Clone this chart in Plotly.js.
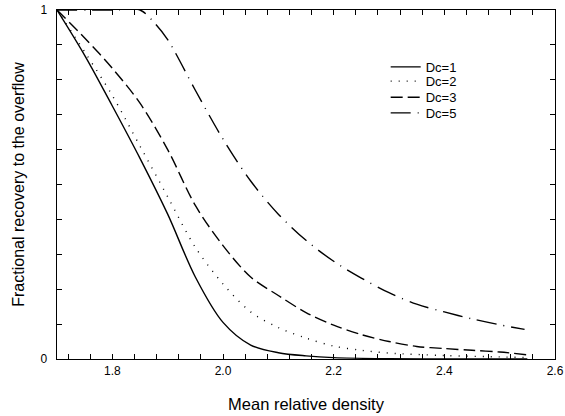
<!DOCTYPE html>
<html>
<head>
<meta charset="utf-8">
<script src="https://cdn.plot.ly/plotly-3.0.1.min.js"></script>
<style>html,body{margin:0;padding:0;background:#fff;}#chart{width:565px;height:416px;}</style>
</head>
<body>
<div id="chart"></div>
<script>
// Mean relative density values and fractional recovery for each Dc
const dc1X = [1.70, 1.75, 1.80, 1.85, 1.90, 1.95, 2.00, 2.05, 2.10, 2.15, 2.20, 2.30, 2.40, 2.55];
const dc1Y = [1.00, 0.87, 0.725, 0.575, 0.415, 0.235, 0.105, 0.040, 0.018, 0.009, 0.004, 0.001, 0.000, 0.000];

const dc2X = [1.70, 1.75, 1.80, 1.85, 1.90, 1.95, 2.00, 2.05, 2.10, 2.15, 2.20, 2.25, 2.30, 2.40, 2.50, 2.55];
const dc2Y = [1.00, 0.88, 0.755, 0.61, 0.465, 0.32, 0.215, 0.135, 0.090, 0.060, 0.037, 0.025, 0.017, 0.010, 0.006, 0.004];

const dc3X = [1.70, 1.75, 1.80, 1.85, 1.90, 1.95, 2.00, 2.05, 2.10, 2.15, 2.20, 2.25, 2.30, 2.35, 2.40, 2.45, 2.50, 2.55];
const dc3Y = [1.00, 0.92, 0.833, 0.733, 0.60, 0.44, 0.325, 0.235, 0.182, 0.133, 0.097, 0.070, 0.050, 0.036, 0.030, 0.025, 0.020, 0.012];

const dc5X = [1.70, 1.80, 1.85, 1.875, 1.90, 1.95, 2.00, 2.05, 2.10, 2.15, 2.20, 2.25, 2.30, 2.35, 2.40, 2.45, 2.50, 2.545];
const dc5Y = [1.00, 1.00, 1.00, 0.965, 0.915, 0.77, 0.63, 0.51, 0.415, 0.34, 0.28, 0.232, 0.19, 0.157, 0.135, 0.115, 0.098, 0.085];

const seriesNames = ['Dc=1', 'Dc=2', 'Dc=3', 'Dc=5'];
const xTickVals = [1.72,1.76,1.80,1.84,1.88,1.92,1.96,2.00,2.04,2.08,2.12,2.16,2.20,2.24,2.28,2.32,2.36,2.40,2.44,2.48,2.52,2.56,2.60];
const xTickLabels = ['','','1.8','','','','','2.0','','','','','2.2','','','','','2.4','','','','','2.6'];
const yTickVals = [0,0.1,0.2,0.3,0.4,0.5,0.6,0.7,0.8,0.9,1.0];
const yTickLabels = ['0','','','','','','','','','','1'];

const lw = 1.4;
const sp = {shape: 'spline', smoothing: 0.9};
const traces = [
  {x: dc1X, y: dc1Y, name: seriesNames[0], legend: 'legend', mode: 'lines', line: Object.assign({color: '#000', width: lw, dash: 'solid'}, sp)},
  {x: dc2X, y: dc2Y, name: seriesNames[1], legend: 'legend2', mode: 'lines', line: Object.assign({color: '#000', width: lw, dash: '1px,7px'}, sp)},
  {x: dc3X, y: dc3Y, name: seriesNames[2], legend: 'legend3', mode: 'lines', line: Object.assign({color: '#000', width: lw, dash: '12px,5px'}, sp)},
  {x: dc5X, y: dc5Y, name: seriesNames[3], legend: 'legend4', mode: 'lines', line: Object.assign({color: '#000', width: lw, dash: '20px,7px,1px,7px'}, sp)}
];

const axisCommon = {
  showgrid: false, zeroline: false, showline: true, linecolor: '#000', linewidth: 1.3,
  mirror: 'allticks', ticks: 'inside', ticklen: 5, tickwidth: 1, tickcolor: '#000',
  tickfont: {family: 'Liberation Sans, Arial, sans-serif', size: 12, color: '#000'}
};

function legendAt(yy) {
  return {x: 0.66, y: yy, xanchor: 'left', yanchor: 'middle', bgcolor: 'rgba(0,0,0,0)',
          font: {size: 13, color: '#000'}, itemwidth: 30};
}

const layout = {
  width: 565, height: 416,
  margin: {l: 57, r: 10, t: 10, b: 57},
  paper_bgcolor: '#fff', plot_bgcolor: '#fff',
  font: {family: 'Liberation Sans, Arial, sans-serif', color: '#000'},
  showlegend: true,
  legend: legendAt(0.837),
  legend2: legendAt(0.796),
  legend3: legendAt(0.750),
  legend4: legendAt(0.705),
  xaxis: Object.assign({}, axisCommon, {
    range: [1.7, 2.6], tickmode: 'array', tickvals: xTickVals, ticktext: xTickLabels,
    title: {text: 'Mean relative density', font: {size: 16.5, color: '#000'}, standoff: 21}
  }),
  yaxis: Object.assign({}, axisCommon, {
    range: [0, 1], tickmode: 'array', tickvals: yTickVals, ticktext: yTickLabels, ticklabelstandoff: 6,
    title: {text: 'Fractional recovery to the overflow', font: {size: 16, color: '#000'}, standoff: 12}
  })
};

Plotly.newPlot('chart', traces, layout, {staticPlot: true, displayModeBar: false});
</script>
</body>
</html>
